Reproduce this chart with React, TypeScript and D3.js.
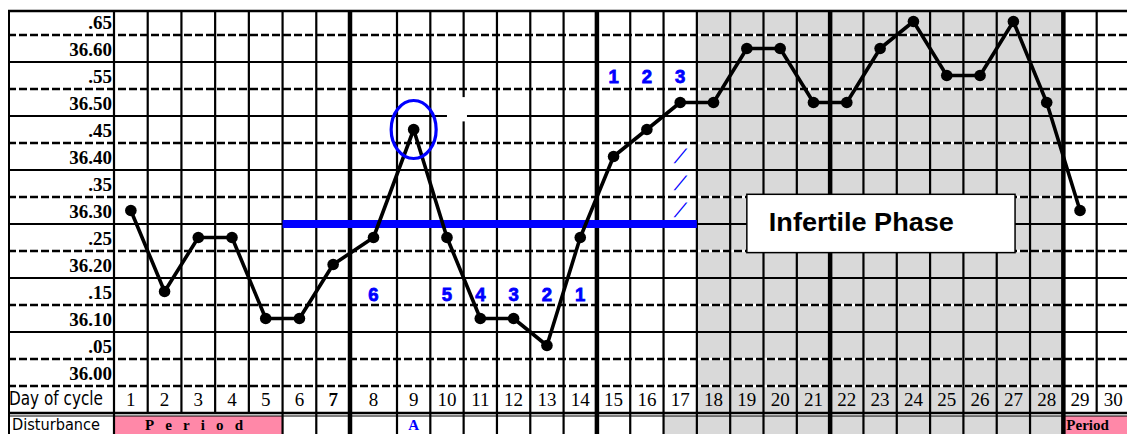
import React, { useEffect, useRef } from 'react';
import * as d3 from 'd3';

// day of cycle (categories)
const days = [1, 2, 3, 4, 5, 6, 7, 8, 9, 10, 11, 12, 13, 14, 15, 16, 17, 18, 19, 20, 21, 22, 23, 24, 25, 26, 27, 28, 29, 30];

// waking temperature per day (day 30 not recorded)
const temps = [
  36.30, 36.15, 36.25, 36.25, 36.10, 36.10, 36.20, 36.25, 36.45, 36.25,
  36.10, 36.10, 36.05, 36.25, 36.40, 36.45, 36.50, 36.50, 36.60, 36.60,
  36.50, 36.50, 36.60, 36.65, 36.55, 36.55, 36.65, 36.50, 36.30,
];

// temperature rows, top to bottom
const tempTicks = [36.65, 36.60, 36.55, 36.50, 36.45, 36.40, 36.35, 36.30, 36.25, 36.20, 36.15, 36.10, 36.05, 36.00];
const tempLabels = ['.65', '36.60', '.55', '36.50', '.45', '36.40', '.35', '36.30', '.25', '36.20', '.15', '36.10', '.05', '36.00'];

// counting marks
const lowCountDays = [8, 10, 11, 12, 13, 14];
const lowCountLabels = ['6', '5', '4', '3', '2', '1'];
const lowCountTemp = 36.15;
const highCountDays = [15, 16, 17];
const highCountLabels = ['1', '2', '3'];
const highCountTemp = 36.55;
const slashDay = 17;
const slashTemps = [36.40, 36.35, 36.30];

// cover line and phases
const coverTemp = 36.275;
const coverDays = [6, 17];
const peakDay = 9;
const infertileDays = [18, 28];
const periodDays = [[1, 5], [29, 30]];
const periodLabels = ['Period', 'Period'];
const disturbanceDays = [9];
const disturbanceLabels = ['A'];
const boldDays = [7];
const thickAfter = [7, 14, 21, 28];

const W = 1127;
const H = 434;

const App = () => {
  const svgRef = useRef<SVGSVGElement>(null);

  useEffect(() => {
    const svg = d3.select(svgRef.current);
    svg.selectAll('*').remove();

    const left = 8;
    const top = 11;
    const dayTop = 386;
    const dayBottom = 413;
    const distTop = 416;

    // column 8 is drawn wider than the rest
    const x = d3.scaleLinear()
      .domain([0.5, 7.5, 8.5, 30.5])
      .range([114, 350, 397, 1130]);

    const y = d3.scaleLinear()
      .domain([35.975, 36.625])
      .range([dayTop, 35]);

    const serif = '"Liberation Serif", "Times New Roman", serif';
    const sans = '"Liberation Sans", Arial, sans-serif';
    const narrow = '"Liberation Sans Narrow", "Arial Narrow", "DejaVu Sans Condensed", sans-serif';

    svg.append('rect').attr('width', W).attr('height', H).attr('fill', 'white');

    // infertile phase shading
    svg.append('rect')
      .attr('x', x(infertileDays[0] - 0.5))
      .attr('y', top)
      .attr('width', x(infertileDays[1] + 0.5) - x(infertileDays[0] - 0.5))
      .attr('height', dayBottom - top)
      .attr('fill', '#d9d9d9');
    svg.append('rect')
      .attr('x', x(infertileDays[0] - 1.5))
      .attr('y', distTop)
      .attr('width', x(infertileDays[1] + 0.5) - x(infertileDays[0] - 1.5))
      .attr('height', H - distTop)
      .attr('fill', '#d9d9d9');

    // period cells
    periodDays.forEach(([a, b]) => {
      svg.append('rect')
        .attr('x', x(a - 0.5) + 1)
        .attr('y', distTop)
        .attr('width', Math.min(x(b + 0.5), W) - x(a - 0.5) - 1)
        .attr('height', H - distTop)
        .attr('fill', '#ff88a8');
    });

    // horizontal grid: row boundaries
    const bounds = tempTicks.map(t => t - 0.025);
    bounds.forEach((b, i) => {
      const dashed = i % 2 === 0 || i === bounds.length - 1;
      if (dashed) {
        svg.append('line')
          .attr('x1', left).attr('x2', W)
          .attr('y1', y(b)).attr('y2', y(b))
          .attr('stroke', 'white').attr('stroke-width', 2.5);
        svg.append('line')
          .attr('x1', left).attr('x2', W)
          .attr('y1', y(b)).attr('y2', y(b))
          .attr('stroke', 'black').attr('stroke-width', 2.5)
          .attr('stroke-dasharray', '8,3');
      } else {
        svg.append('line')
          .attr('x1', left).attr('x2', W)
          .attr('y1', y(b)).attr('y2', y(b))
          .attr('stroke', 'black').attr('stroke-width', 2.2);
      }
    });

    // top border and day-row bottom (double line)
    svg.append('line').attr('x1', left).attr('x2', W).attr('y1', top).attr('y2', top)
      .attr('stroke', 'black').attr('stroke-width', 2.5);
    svg.append('line').attr('x1', left).attr('x2', W).attr('y1', dayBottom).attr('y2', dayBottom)
      .attr('stroke', 'black').attr('stroke-width', 2.5);
    svg.append('line').attr('x1', left).attr('x2', W).attr('y1', distTop).attr('y2', distTop)
      .attr('stroke', 'black').attr('stroke-width', 1);

    // vertical grid
    svg.append('line').attr('x1', left + 1).attr('x2', left + 1).attr('y1', top).attr('y2', H)
      .attr('stroke', 'black').attr('stroke-width', 2);
    const edges = [0].concat(days);
    edges.forEach(d => {
      const insidePeriod = periodDays.some(([a, b]) => d >= a && d < b);
      svg.append('line')
        .attr('x1', x(d + 0.5)).attr('x2', x(d + 0.5))
        .attr('y1', top).attr('y2', insidePeriod ? dayBottom : H)
        .attr('stroke', 'black')
        .attr('stroke-width', thickAfter.includes(d) ? 4.5 : 2.2);
    });

    // white patch over the grid
    svg.append('rect')
      .attr('x', x(10)).attr('y', y(36.51))
      .attr('width', x(10.6) - x(10)).attr('height', y(36.465) - y(36.51))
      .attr('fill', 'white');

    // cover line
    svg.append('line')
      .attr('x1', x(coverDays[0] - 0.5)).attr('x2', x(coverDays[1] + 0.5))
      .attr('y1', y(coverTemp)).attr('y2', y(coverTemp))
      .attr('stroke', '#0000ff').attr('stroke-width', 8);

    // temperature curve
    const pts = temps.map((t, i) => ({ day: days[i], t }));
    const line = d3.line<{ day: number; t: number }>()
      .x(d => x(d.day))
      .y(d => y(d.t));
    svg.append('path')
      .datum(pts)
      .attr('fill', 'none')
      .attr('stroke', 'black')
      .attr('stroke-width', 3.6)
      .attr('stroke-linejoin', 'round')
      .attr('d', line);
    svg.selectAll('circle.pt')
      .data(pts)
      .enter().append('circle')
      .attr('class', 'pt')
      .attr('cx', d => x(d.day))
      .attr('cy', d => y(d.t))
      .attr('r', 5.8)
      .attr('fill', 'black');

    // peak ring
    svg.append('ellipse')
      .attr('cx', x(peakDay))
      .attr('cy', y(temps[peakDay - 1]))
      .attr('rx', 22.5).attr('ry', 29)
      .attr('fill', 'none')
      .attr('stroke', '#0000ff').attr('stroke-width', 3.2);

    // counting numbers
    const blueNum = (d: number, t: number, dy: number, label: string) => {
      svg.append('text')
        .attr('x', x(d)).attr('y', y(t) + dy)
        .attr('text-anchor', 'middle')
        .attr('font-family', sans).attr('font-weight', 'bold').attr('font-size', 18.5)
        .attr('fill', '#0000ff')
        .attr('stroke', '#0000ff').attr('stroke-width', 0.8)
        .text(label);
    };
    lowCountDays.forEach((d, i) => blueNum(d, lowCountTemp, 9.5, lowCountLabels[i]));
    highCountDays.forEach((d, i) => blueNum(d, highCountTemp, 7.5, highCountLabels[i]));
    slashTemps.forEach(t => {
      svg.append('text')
        .attr('x', x(slashDay)).attr('y', y(t) + 7)
        .attr('text-anchor', 'middle')
        .attr('font-family', sans).attr('font-style', 'italic').attr('font-size', 20)
        .attr('fill', '#0000ff')
        .attr('transform', `translate(${x(slashDay)},${y(t)}) skewX(-20) translate(${-x(slashDay)},${-y(t)})`)
        .text('/');
    });

    // infertile phase label
    const bx0 = x(19), bx1 = x(27.05), by0 = y(36.33), by1 = y(36.222);
    svg.append('rect')
      .attr('x', bx0).attr('y', by0)
      .attr('width', bx1 - bx0).attr('height', by1 - by0)
      .attr('fill', 'white').attr('stroke', 'black').attr('stroke-width', 1.5);
    svg.append('text')
      .attr('x', bx0 + 22).attr('y', by0 + 37)
      .attr('font-family', sans).attr('font-weight', 'bold').attr('font-size', 26)
      .attr('textLength', 185).attr('lengthAdjust', 'spacingAndGlyphs')
      .attr('fill', 'black')
      .text('Infertile Phase');

    // temperature labels
    tempTicks.forEach((t, i) => {
      svg.append('text')
        .attr('x', 112).attr('y', y(t) + 7.5)
        .attr('text-anchor', 'end')
        .attr('font-family', serif).attr('font-weight', 'bold').attr('font-size', 19)
        .attr('fill', 'black')
        .text(tempLabels[i]);
    });

    // day row
    svg.append('text')
      .attr('x', 9).attr('y', dayBottom - 8)
      .attr('font-family', narrow).attr('font-size', 19)
      .attr('textLength', 94).attr('lengthAdjust', 'spacingAndGlyphs')
      .text('Day of cycle');
    days.forEach(d => {
      svg.append('text')
        .attr('x', x(d)).attr('y', dayBottom - 7)
        .attr('text-anchor', 'middle')
        .attr('font-family', serif).attr('font-size', 19)
        .attr('font-weight', boldDays.includes(d) ? 'bold' : 'normal')
        .attr('fill', 'black')
        .text(d);
    });

    // disturbance row (the row is only partly visible, so keep the text small)
    const rowBase = H - 4.5;
    svg.append('text')
      .attr('x', 12).attr('y', rowBase)
      .attr('font-family', narrow).attr('font-size', 15)
      .attr('textLength', 88).attr('lengthAdjust', 'spacingAndGlyphs')
      .text('Disturbance');
    svg.append('text')
      .attr('x', x(periodDays[0][0] - 0.5) + 31).attr('y', rowBase)
      .attr('font-family', serif).attr('font-weight', 'bold').attr('font-size', 15)
      .attr('textLength', 98).attr('lengthAdjust', 'spacing')
      .text(periodLabels[0]);
    svg.append('text')
      .attr('x', x(periodDays[1][0] - 0.5) + 3).attr('y', rowBase)
      .attr('font-family', serif).attr('font-weight', 'bold').attr('font-size', 15)
      .text(periodLabels[1]);
    disturbanceDays.forEach((d, i) => {
      svg.append('text')
        .attr('x', x(d)).attr('y', rowBase)
        .attr('text-anchor', 'middle')
        .attr('font-family', serif).attr('font-weight', 'bold').attr('font-size', 15)
        .attr('fill', '#0000ff')
        .text(disturbanceLabels[i]);
    });
  }, []);

  return (
    <svg
      ref={svgRef}
      width={W}
      height={H}
      style={{ position: 'absolute', left: 0, top: 0, display: 'block' }}
    />
  );
};

export default App;
